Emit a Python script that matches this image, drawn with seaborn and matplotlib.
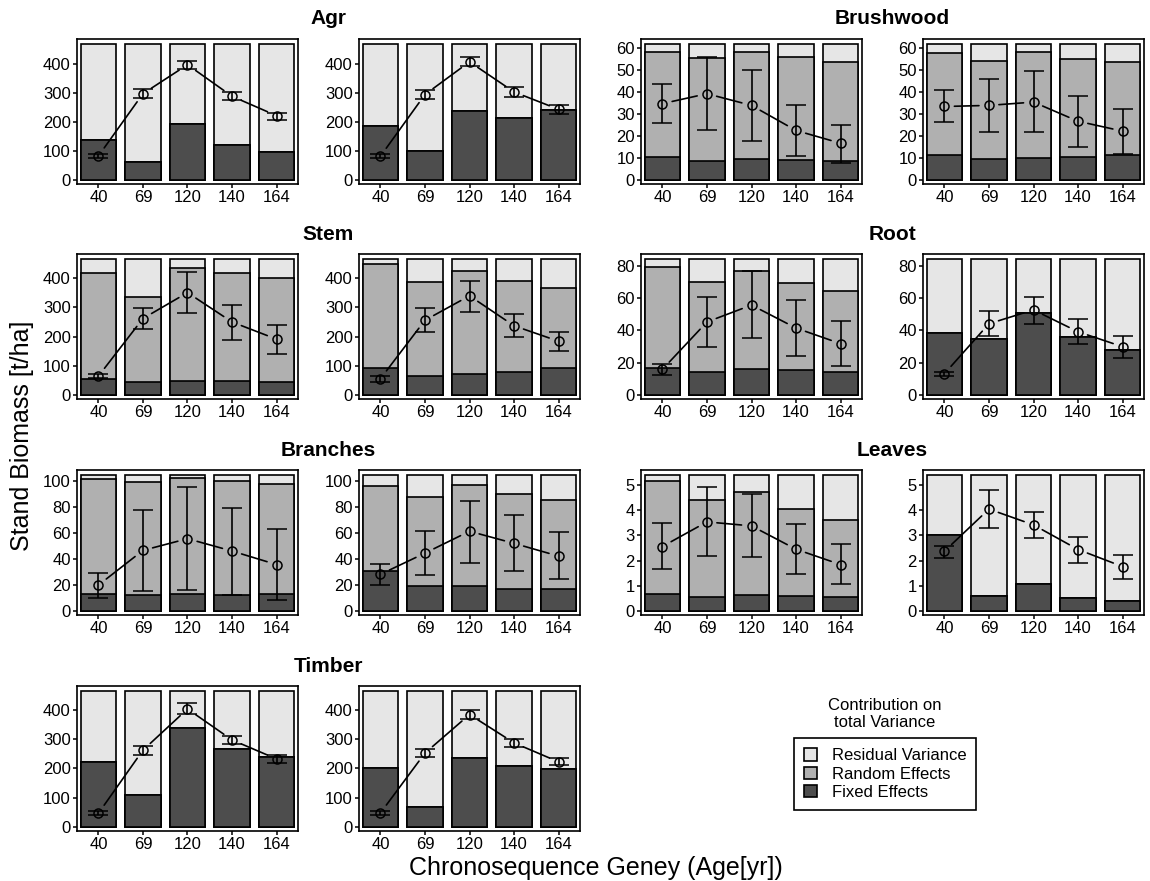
import numpy as np
import pandas as pd
import matplotlib
matplotlib.use("Agg")
import matplotlib.pyplot as plt
import seaborn as sns
from matplotlib.patches import Patch

ages = ["40", "69", "120", "140", "164"]

# bar height = total variance of the group (same for every bar)
agr_total = 467
brush_total = 61.5
stem_total = 465
root_total = 84.2
branch_total = 104
leaves_total = 5.39
timber_total = 463

# ---- Agr ----
agr1_fixed = [137, 60, 191, 121, 97]
agr1_random = [0, 0, 0, 0, 0]
agr1_mean = [82, 297, 397, 288, 221]
agr1_lo = [75, 283, 381, 274, 208]
agr1_hi = [89, 312, 409, 302, 232]

agr2_fixed = [184, 98, 237, 213, 240]
agr2_random = [0, 0, 0, 0, 0]
agr2_mean = [81, 294, 407, 303, 243]
agr2_lo = [74, 277, 392, 287, 228]
agr2_hi = [88, 309, 424, 320, 257]

# ---- Brushwood ----
brush1_fixed = [10.2, 8.7, 9.4, 9.0, 8.7]
brush1_random = [48.0, 46.7, 48.8, 46.6, 44.9]
brush1_mean = [34.6, 39.1, 33.8, 22.4, 16.6]
brush1_lo = [25.6, 22.4, 17.8, 10.7, 7.5]
brush1_hi = [43.7, 55.9, 49.8, 33.8, 25.1]

brush2_fixed = [11.4, 9.3, 9.9, 10.2, 11.3]
brush2_random = [46.0, 44.6, 48.0, 44.9, 42.0]
brush2_mean = [33.3, 33.8, 35.3, 26.6, 22.1]
brush2_lo = [26.2, 21.8, 21.5, 15.1, 11.9]
brush2_hi = [40.7, 45.7, 49.2, 38.1, 32.1]

# ---- Stem ----
stem1_fixed = [55, 43, 49, 47, 45]
stem1_random = [364, 294, 386, 372, 356]
stem1_mean = [64, 262, 351, 250, 191]
stem1_lo = [57, 226, 280, 188, 140]
stem1_hi = [72, 298, 423, 309, 241]

stem2_fixed = [93, 64, 71, 77, 93]
stem2_random = [355, 324, 355, 315, 274]
stem2_mean = [55, 256, 340, 237, 184]
stem2_lo = [45, 215, 286, 199, 151]
stem2_hi = [64, 297, 391, 276, 214]

# ---- Root ----
root1_fixed = [16.8, 14.1, 16.2, 15.2, 13.9]
root1_random = [62.8, 55.8, 60.9, 54.3, 50.9]
root1_mean = [15.8, 45.3, 55.8, 41.5, 31.8]
root1_lo = [12.4, 29.9, 35.4, 24.2, 17.7]
root1_hi = [18.9, 61.1, 77.3, 58.9, 46.1]

root2_fixed = [38.3, 34.5, 50.9, 36.0, 27.8]
root2_random = [0, 0, 0, 0, 0]
root2_mean = [13.1, 44.2, 52.8, 39.2, 29.9]
root2_lo = [11.6, 36.6, 44.2, 31.4, 22.9]
root2_hi = [14.1, 52.0, 61.1, 47.2, 36.6]

# ---- Branches ----
branch1_fixed = [12.7, 12.2, 13.0, 12.2, 12.7]
branch1_random = [88.3, 86.8, 88.8, 87.3, 85.0]
branch1_mean = [19.7, 46.4, 55.4, 45.9, 35.5]
branch1_lo = [10.1, 15.5, 15.8, 11.9, 8.5]
branch1_hi = [28.8, 77.2, 94.8, 78.8, 62.7]

branch2_fixed = [30.3, 18.9, 19.4, 17.1, 17.1]
branch2_random = [65.6, 68.9, 77.2, 72.5, 67.9]
branch2_mean = [28.0, 44.3, 61.1, 51.8, 42.0]
branch2_lo = [19.7, 27.5, 37.0, 30.3, 24.1]
branch2_hi = [35.8, 61.4, 84.7, 73.8, 60.4]

# ---- Leaves ----
leaves1_fixed = [0.66, 0.56, 0.64, 0.58, 0.54]
leaves1_random = [4.50, 3.84, 4.09, 3.47, 3.09]
leaves1_mean = [2.56, 3.54, 3.38, 2.45, 1.84]
leaves1_lo = [1.66, 2.17, 2.13, 1.45, 1.05]
leaves1_hi = [3.49, 4.91, 4.64, 3.45, 2.65]

leaves2_fixed = [3.02, 0.58, 1.05, 0.50, 0.39]
leaves2_random = [0, 0, 0, 0, 0]
leaves2_mean = [2.37, 4.05, 3.42, 2.44, 1.76]
leaves2_lo = [2.09, 3.31, 2.91, 1.89, 1.27]
leaves2_hi = [2.59, 4.79, 3.95, 2.95, 2.23]

# ---- Timber ----
timber1_fixed = [221, 108, 337, 267, 239]
timber1_random = [0, 0, 0, 0, 0]
timber1_mean = [46, 262, 403, 297, 232]
timber1_lo = [39, 244, 385, 282, 219]
timber1_hi = [53, 276, 422, 311, 244]

timber2_fixed = [202, 67, 235, 209, 197]
timber2_random = [0, 0, 0, 0, 0]
timber2_mean = [47, 252, 384, 287, 222]
timber2_lo = [40, 239, 368, 273, 211]
timber2_hi = [54, 267, 398, 300, 234]

light = "#e6e6e6"
mid = "#b0b0b0"
dark = "#4d4d4d"

sns.set_theme(style="ticks")
plt.rcParams["font.family"] = ["Liberation Sans", "DejaVu Sans"]
plt.rcParams["text.color"] = "black"

W, H = 1150, 881
fig = plt.figure(figsize=(W / 100, H / 100), dpi=100)

col_left = [77, 359, 641, 923]
row_top = [39, 254, 470, 686]
pw, ph = 221, 145


def gap_line(ax, xs, ys, gap=10):
    # connecting line that stops short of each point, like R's type="b"
    pts = ax.transData.transform(np.column_stack([xs, ys]))
    inv = ax.transData.inverted()
    for p0, p1 in zip(pts[:-1], pts[1:]):
        d = p1 - p0
        L = np.hypot(*d)
        if L <= 2 * gap:
            continue
        u = d / L
        a = inv.transform(p0 + u * gap)
        b = inv.transform(p1 - u * gap)
        ax.plot([a[0], b[0]], [a[1], b[1]], color="black", lw=1.2, zorder=4)


def draw_panel(row, col, total, yticks, fixed, random, mean, lo, hi):
    ax = fig.add_axes([col_left[col] / W, 1 - (row_top[row] + ph) / H, pw / W, ph / H])
    fr = [f + r for f, r in zip(fixed, random)]
    df = pd.DataFrame({"age": ages, "total": [total] * 5, "fr": fr, "fixed": fixed})
    for name, c in [("total", light), ("fr", mid), ("fixed", dark)]:
        sns.barplot(data=df, x="age", y=name, order=ages, color=c, saturation=1,
                    width=0.8, edgecolor="black", linewidth=1.2, errorbar=None, ax=ax)
    ax.set_xlim(-0.48, 4.48)
    ax.set_ylim(-0.031 * total, 1.04 * total)
    ax.set_yticks(yticks)
    ax.set_yticklabels([f"{t:g}" for t in yticks])
    ax.set_xlabel("")
    ax.set_ylabel("")
    for s in ax.spines.values():
        s.set_visible(True)
        s.set_color("black")
        s.set_linewidth(1.2)
    ax.tick_params(direction="out", length=3, width=1.1, pad=1.5,
                   labelsize=12, colors="black")
    m = np.array(mean)
    xs = np.arange(5)
    ax.errorbar(xs, m, yerr=[m - np.array(lo), np.array(hi) - m], fmt="o",
                mfc="none", mec="black", ms=6.5, mew=1.1, ecolor="black",
                elinewidth=1.2, capsize=7, capthick=1.2, zorder=5)
    gap_line(ax, xs, m)
    return ax


panels = [
    ("Agr", 0, 0, agr_total, [0, 100, 200, 300, 400],
     [agr1_fixed, agr1_random, agr1_mean, agr1_lo, agr1_hi],
     [agr2_fixed, agr2_random, agr2_mean, agr2_lo, agr2_hi]),
    ("Brushwood", 0, 2, brush_total, [0, 10, 20, 30, 40, 50, 60],
     [brush1_fixed, brush1_random, brush1_mean, brush1_lo, brush1_hi],
     [brush2_fixed, brush2_random, brush2_mean, brush2_lo, brush2_hi]),
    ("Stem", 1, 0, stem_total, [0, 100, 200, 300, 400],
     [stem1_fixed, stem1_random, stem1_mean, stem1_lo, stem1_hi],
     [stem2_fixed, stem2_random, stem2_mean, stem2_lo, stem2_hi]),
    ("Root", 1, 2, root_total, [0, 20, 40, 60, 80],
     [root1_fixed, root1_random, root1_mean, root1_lo, root1_hi],
     [root2_fixed, root2_random, root2_mean, root2_lo, root2_hi]),
    ("Branches", 2, 0, branch_total, [0, 20, 40, 60, 80, 100],
     [branch1_fixed, branch1_random, branch1_mean, branch1_lo, branch1_hi],
     [branch2_fixed, branch2_random, branch2_mean, branch2_lo, branch2_hi]),
    ("Leaves", 2, 2, leaves_total, [0, 1, 2, 3, 4, 5],
     [leaves1_fixed, leaves1_random, leaves1_mean, leaves1_lo, leaves1_hi],
     [leaves2_fixed, leaves2_random, leaves2_mean, leaves2_lo, leaves2_hi]),
    ("Timber", 3, 0, timber_total, [0, 100, 200, 300, 400],
     [timber1_fixed, timber1_random, timber1_mean, timber1_lo, timber1_hi],
     [timber2_fixed, timber2_random, timber2_mean, timber2_lo, timber2_hi]),
]

for title, row, col, total, yticks, left, right in panels:
    draw_panel(row, col, total, yticks, *left)
    draw_panel(row, col + 1, total, yticks, *right)
    cx = (col_left[col] + col_left[col + 1] + pw) / 2
    fig.text(cx / W, 1 - (row_top[row] - 20) / H, title, ha="center", va="center",
             fontsize=15, fontweight="bold", color="black")

fig.text(22 / W, 1 - 436 / H, "Stand Biomass [t/ha]", rotation=90,
         ha="center", va="center", fontsize=18, color="black")
fig.text(596 / W, 1 - 868 / H, "Chronosequence Geney (Age[yr])",
         ha="center", va="center", fontsize=18, color="black")

handles = [Patch(facecolor=light, edgecolor="black", lw=1.2, label="Residual Variance"),
           Patch(facecolor=mid, edgecolor="black", lw=1.2, label="Random Effects"),
           Patch(facecolor=dark, edgecolor="black", lw=1.2, label="Fixed Effects")]
leg = fig.legend(handles=handles, loc="lower left", bbox_to_anchor=(794 / W, 1 - 810 / H),
                 frameon=True, fancybox=False, edgecolor="black", framealpha=1,
                 fontsize=12, handlelength=0.75, handleheight=0.75, handletextpad=0.9,
                 labelspacing=0.2, borderpad=0.6, borderaxespad=0)
leg.get_frame().set_linewidth(1.2)
for t in leg.get_texts():
    t.set_color("black")

fig.canvas.draw()
bb = leg.get_window_extent()
fig.text((bb.x0 + bb.x1) / 2 / W, (bb.y1 + 8) / H, "Contribution on\ntotal Variance",
         ha="center", va="bottom", fontsize=12, linespacing=1.2, color="black")

fig.savefig("out.png", dpi=100)
